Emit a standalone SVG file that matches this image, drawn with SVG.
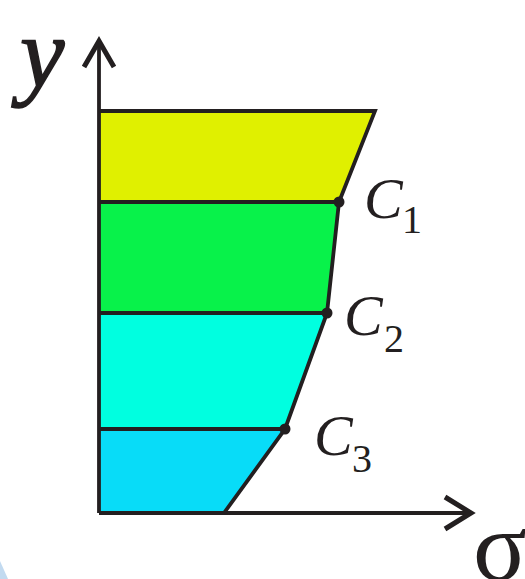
<svg xmlns="http://www.w3.org/2000/svg" width="525" height="579" viewBox="0 0 525 579">
<style>
.band{stroke:none}
.ln{stroke:#231f20;stroke-width:3.8;fill:none;stroke-linejoin:miter}
.ax{stroke:#231f20;stroke-width:3.8;fill:none}
.ah{stroke:#231f20;stroke-width:5;fill:none;stroke-linejoin:miter}
.pt{fill:#231f20}
.lbl{font-family:"Liberation Serif",serif;font-style:italic;fill:#231f20}
.sub{font-family:"Liberation Serif",serif;fill:#231f20}
</style>
<rect width="525" height="579" fill="#ffffff"/>
<path d="M0,561 Q4,570 8,579 L0,579 Z" fill="#c2daf0"/>
<g id="bands">
<polygon class="band" fill="#e0f000" points="99,111 375,111 339,202 99,202"/>
<polygon class="band" fill="#08f24a" points="99,202 339,202 327,313 99,313"/>
<polygon class="band" fill="#00ffe0" points="99,313 327,313 285,429 99,429"/>
<polygon class="band" fill="#08dcf8" points="99,429 285,429 224,513 99,513"/>
</g>
<g id="connectors">
<line class="ax" x1="99" y1="42" x2="99" y2="513"/>
<polyline class="ah" points="84,67 99,41 114,67"/>
<line class="ax" x1="99" y1="513" x2="470" y2="513"/>
<polyline class="ah" points="445,497 471,513 445,529"/>
<polyline class="ln" points="99,111 375,111 339,202 327,313 285,429 224,513"/>
<line class="ln" x1="99" y1="202" x2="339" y2="202"/>
<line class="ln" x1="99" y1="313" x2="327" y2="313"/>
<line class="ln" x1="99" y1="429" x2="285" y2="429"/>
</g>
<g id="C1">
<circle class="pt" cx="339" cy="202" r="5.5"/>
<text class="lbl" x="364" y="218" font-size="58">C</text>
<text class="sub" x="402" y="233" font-size="40">1</text>
</g>
<g id="C2">
<circle class="pt" cx="327" cy="313" r="5.5"/>
<text class="lbl" x="344" y="335" font-size="58">C</text>
<text class="sub" x="384" y="352" font-size="40">2</text>
</g>
<g id="C3">
<circle class="pt" cx="285" cy="429" r="5.5"/>
<text class="lbl" x="314" y="455" font-size="58">C</text>
<text class="sub" x="352" y="472" font-size="40">3</text>
</g>
<g id="ylabel"><text class="lbl" x="20" y="87" font-size="100" stroke="#231f20" stroke-width="1.5">y</text></g>
<g id="sigma"><text class="sub" x="473" y="580" font-size="100">σ</text></g>
</svg>
